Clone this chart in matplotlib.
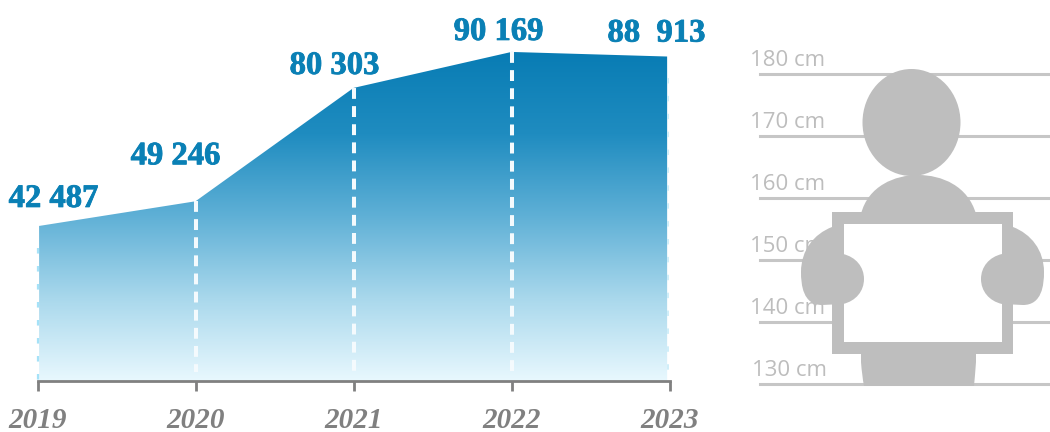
import numpy as np
import matplotlib
matplotlib.use("Agg")
import matplotlib.pyplot as plt
import matplotlib.patheffects as pe
from matplotlib.colors import LinearSegmentedColormap
from matplotlib.patches import Ellipse, PathPatch, Polygon, Rectangle
from matplotlib.path import Path

years = [2019, 2020, 2021, 2022, 2023]
values = [42487, 49246, 80303, 90169, 88913]
value_labels = ["42 487", "49 246", "80 303", "90 169", "88  913"]
heights_cm = [180, 170, 160, 150, 140, 130]

W, H = 1050, 432
BLUE = "#0a80b5"
AXIS_GREY = "#808080"
SIL_GREY = "#bebebe"
LINE_GREY = "#c6c6c6"
TEXT_GREY = "#bdbdbd"


def px_axes(fig, left, top, right, bottom):
    """Add an axes whose edges are given in pixels from the top-left corner."""
    return fig.add_axes([left / W, 1 - bottom / H, (right - left) / W, (bottom - top) / H])


fig = plt.figure(figsize=(W / 100, H / 100), dpi=100, facecolor="white")

# Area chart: value axis starts at zero on the baseline
ax = px_axes(fig, 37.5, 0, 669.5, 381)
ax.patch.set_alpha(0)

cmap = LinearSegmentedColormap.from_list(
    "area", ["#e8f8fe", "#a9d8ec", "#5fb0d6", "#1f8cc0", "#087cb4"]
)
top_value = max(values)
gradient = np.linspace(0, 1, 256).reshape(-1, 1)
img = ax.imshow(gradient, origin="lower", cmap=cmap, aspect="auto",
                extent=[2019.01, 2022.985, 0, top_value], zorder=1)
outline = Polygon(
    [(2019.01, 0)] + [(2019.01, values[0])] + list(zip(years[1:-1], values[1:-1]))
    + [(2022.985, values[-1]), (2022.985, 0)],
    closed=True, transform=ax.transData, facecolor="none", edgecolor="none",
)
ax.add_patch(outline)
img.set_clip_path(outline)
ax.set_xlim(2019, 2023)
ax.set_ylim(0, 104400)

# Dashed drop lines at each interior year, fainter on the two outer edges
for year, value in zip(years[1:-1], values[1:-1]):
    ax.plot([year, year], [value, 2500], color="#f4fafd", lw=2.9,
            dashes=(2.7, 1.8), zorder=2)
ax.plot([2019.0, 2019.0], [values[0] - 6000, 0], color="#a5e2f8", lw=1.6,
        dashes=(2.5, 5.6), zorder=2, clip_on=False)
ax.plot([2022.99, 2022.99], [values[-1] - 6000, 0], color="#cfeef9", lw=1.4,
        dashes=(2.8, 6.4), zorder=2, clip_on=False)

for side in ("top", "left", "right"):
    ax.spines[side].set_visible(False)
ax.spines["bottom"].set_color(AXIS_GREY)
ax.spines["bottom"].set_linewidth(2)
ax.set_yticks([])
ax.set_xticks(years)
ax.set_xticklabels(years, family="Liberation Serif", style="italic", weight="bold",
                   fontsize=21, color=AXIS_GREY)
ax.tick_params(axis="x", length=7, width=2, color=AXIS_GREY, pad=12)

label_offsets = [(16, 19), (-20, 37), (-19, 14), (-13, 12), (-13, 15)]
for year, value, text, (dx, dy) in zip(years, values, value_labels, label_offsets):
    ax.annotate(text, (year, value), xytext=(dx * 0.72, dy * 0.72),
                textcoords="offset points", ha="center", va="baseline",
                family="Liberation Serif", weight="bold", fontsize=23.5,
                color=BLUE, annotation_clip=False, zorder=4,
                path_effects=[pe.withStroke(linewidth=0.6, foreground=BLUE)])

# Height ruler
ruler = px_axes(fig, 760, 74, 1050, 384)
ruler.set_ylim(130, 180)
ruler.set_xlim(0, 1)
ruler.axis("off")
for cm in heights_cm:
    ruler.axhline(cm, color=LINE_GREY, lw=2.2, clip_on=False, zorder=1)
    ruler.annotate(f"{cm} cm", (0, cm), xytext=((-9.5 if cm != 130 else -7.5) * 0.72, 8 * 0.72),
                   textcoords="offset points", ha="left", va="baseline",
                   family="Open Sans", fontsize=16, color=TEXT_GREY,
                   annotation_clip=False, zorder=2)

# Silhouette holding a blank board, drawn in pixel coordinates
sil = px_axes(fig, 0, 0, W, H)
sil.set_xlim(0, W)
sil.set_ylim(H, 0)
sil.axis("off")
sil.patch.set_alpha(0)

CX = 922.5
sil.add_patch(Ellipse((911.5, 122.5), 98, 107, fc=SIL_GREY, ec="none"))
shoulders = Path(
    [(861, 214), (868, 186), (895, 175), (918, 175), (942, 175), (968, 186), (976, 214), (861, 214)],
    [Path.MOVETO, Path.CURVE4, Path.CURVE4, Path.CURVE4, Path.CURVE4, Path.CURVE4, Path.CURVE4, Path.CLOSEPOLY],
)
sil.add_patch(PathPatch(shoulders, fc=SIL_GREY, ec="none"))
torso = Path(
    [(861, 350), (976, 350), (976, 362), (975, 376), (974, 386), (864, 386), (862, 376), (861, 362), (861, 350)],
    [Path.MOVETO, Path.LINETO, Path.LINETO, Path.CURVE3, Path.CURVE3, Path.LINETO, Path.CURVE3, Path.CURVE3, Path.CLOSEPOLY],
)
sil.add_patch(PathPatch(torso, fc=SIL_GREY, ec="none"))
sil.add_patch(Rectangle((832, 212), 181, 142, fc=SIL_GREY, ec="none"))
sil.add_patch(Rectangle((843.5, 224), 158.5, 118, fc="white", ec="none"))

arm_xy = [(832, 227),
          (814, 234), (801, 250), (801, 272),
          (801, 285), (803, 305), (822, 305),
          (843, 304),
          (856, 301), (864, 291), (864, 279),
          (864, 267), (856, 257), (843, 254),
          (832, 254), (832, 227)]
arm_codes = ([Path.MOVETO] + [Path.CURVE4] * 6 + [Path.LINETO] + [Path.CURVE4] * 6
             + [Path.LINETO, Path.CLOSEPOLY])
for mirror in (False, True):
    pts = [(2 * CX - x, y) if mirror else (x, y) for x, y in arm_xy]
    sil.add_patch(PathPatch(Path(pts, arm_codes), fc=SIL_GREY, ec="none"))

fig.savefig("out.png", dpi=100, facecolor="white")
